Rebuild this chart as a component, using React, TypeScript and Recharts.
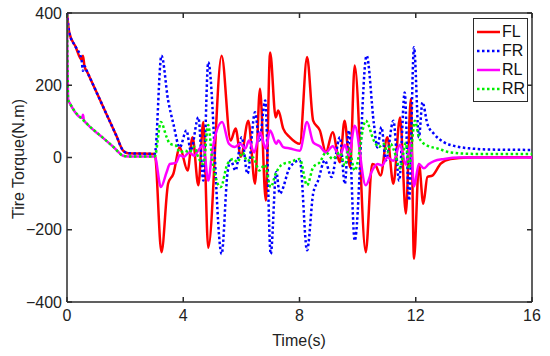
import React from "react";
import { LineChart, Line, XAxis, YAxis, Legend, usePlotArea } from "recharts";

// [time (s), torque (N.m)]
const flSeries: [number, number][] = [
  [0, 400], [0.08, 345], [0.3, 306], [0.5, 271], [0.55, 282], [0.6, 253], [0.7, 236], [1.2, 148],
  [1.7, 60], [1.93, 19], [2.1, 12], [3.02, 10],
  [3.25, -262], [3.48, -72], [3.66, -45], [3.88, 28], [4.15, -36], [4.32, 56], [4.52, -77], [4.69, 98],
  [4.86, -250], [5.32, 282], [5.63, 47], [5.8, 80], [5.98, 2], [6.24, 102], [6.47, -73], [6.64, 190],
  [6.84, -119], [6.99, 291], [7.18, 111], [7.27, 130], [7.44, 80], [7.67, 56], [8.01, 38], [8.26, 278],
  [8.47, 102], [8.7, 75], [8.91, 15], [9.14, 70], [9.39, -13], [9.55, 102], [9.74, -27], [9.9, 255],
  [10.28, -262], [10.5, -18], [10.62, -22], [10.79, -50], [11.02, 56], [11.23, -73], [11.46, 111],
  [11.66, -155], [11.83, 162], [11.94, -280], [12.11, -18], [12.26, -128], [12.4, -54], [12.57, -50],
  [12.86, -17], [13.2, -4], [13.8, 0], [16, 1],
];

const frSeries: [number, number][] = [
  [0, 400], [0.08, 345], [0.3, 306], [0.5, 271], [0.55, 240], [0.6, 253], [0.7, 236], [1.2, 148],
  [1.7, 60], [1.93, 19], [2.1, 12], [3.02, 10],
  [3.25, 282], [3.48, 158], [3.66, 93], [3.88, 28], [4.11, 75], [4.26, 19], [4.52, 111], [4.69, -64],
  [4.86, 264], [5.32, -267], [5.52, -45], [5.63, -8], [5.8, -36], [6.01, 56], [6.21, -45], [6.47, 125],
  [6.62, 47], [6.82, 158], [7.01, -267], [7.2, -40], [7.32, -100], [7.67, -27], [8.01, -8], [8.26, -257],
  [8.47, -100], [8.64, -64], [8.87, -8], [9.1, -54], [9.39, 56], [9.56, -73], [9.7, 75], [9.9, -230],
  [10.31, 282], [10.56, 93], [10.68, 28], [10.82, 84], [10.97, -8], [11.23, 102], [11.43, -64],
  [11.62, 180], [11.77, -119], [11.94, 305], [12.11, 56], [12.23, 153], [12.4, 93], [12.63, 65],
  [12.98, 42], [13.44, 30], [13.9, 25], [14.5, 22], [16, 21],
];

const rlSeries: [number, number][] = [
  [0, 395], [0.04, 160], [0.1, 150], [0.52, 110], [0.55, 118], [0.58, 104], [0.68, 94], [1.2, 57],
  [1.6, 29], [1.93, 5], [2.1, 3], [3.02, 3], [3.23, -82], [3.43, -40], [3.54, -18], [3.75, -15], [3.88, 6], [4.03, 2],
  [4.2, 14], [4.38, 5], [4.5, 18], [4.69, 33], [4.86, -64], [5.0, 19], [5.34, 98], [5.57, 38],
  [5.77, 29], [5.95, 38], [6.14, 25], [6.26, 47], [6.44, 14], [6.64, 70], [6.84, 25], [6.99, 75],
  [7.2, 38], [7.27, 47], [7.44, 29], [7.67, 25], [8.01, 19], [8.26, 98], [8.47, 42], [8.7, 31],
  [8.91, 14], [9.14, 31], [9.39, 4], [9.56, 35], [9.7, 6], [9.9, 88], [10.28, -77], [10.5, -36],
  [10.68, -18], [10.84, -22], [11.02, 0], [11.23, -9], [11.46, 35], [11.66, -20], [11.83, 40],
  [11.94, -80], [12.11, -18], [12.28, -30], [12.45, -18], [12.63, -10], [12.98, -4], [13.5, 0], [16, 0],
];

const rrSeries: [number, number][] = [
  [0, 395], [0.04, 160], [0.1, 150], [0.68, 94], [1.2, 57], [1.6, 29], [1.93, 5], [2.1, 3], [3.02, 3],
  [3.23, 98], [3.43, 56],
  [3.54, 38], [3.75, 33], [3.88, 14], [4.06, 19], [4.2, 14], [4.38, 30], [4.52, 0], [4.69, -18],
  [4.86, 90], [5.0, -8], [5.29, -82], [5.52, -18], [5.72, -4], [5.86, -13], [6.04, 14], [6.2, -10],
  [6.4, 0], [6.62, -36], [6.8, -20], [7.01, -82], [7.18, -45], [7.36, -22], [7.44, -18], [7.67, -13],
  [8.01, -4], [8.26, -77], [8.47, -27], [8.7, -13], [8.91, 14], [9.14, -4], [9.39, 14], [9.56, -22],
  [9.7, 25], [9.9, -36], [10.28, 102], [10.56, 47], [10.73, 29], [10.9, 38], [11.02, 14], [11.14, 38],
  [11.25, 20], [11.46, -30], [11.66, 40], [11.77, -30], [11.97, 102], [12.11, 56], [12.23, 42],
  [12.4, 33], [12.75, 25], [13.2, 14], [14, 10], [16, 10],
];

const xTicks = [0, 4, 8, 12, 16];
const yTicks = [-400, -200, 0, 200, 400];

const FONT = '"Liberation Sans", Arial, sans-serif';
const AXIS = "#2b2b2b";

const series = [
  { name: "FL", data: flSeries, color: "#ff0000", dash: undefined },
  { name: "FR", data: frSeries, color: "#0000ff", dash: "2.5 2.5" },
  { name: "RL", data: rlSeries, color: "#ff00ff", dash: undefined },
  { name: "RR", data: rrSeries, color: "#00ee00", dash: "2.5 2.5" },
];

const toPoints = (pairs: [number, number][]) => pairs.map(([t, v]) => ({ t, v }));

const minus = (v: number) => String(v).replace("-", "\u2212");

// top + right edges of the matlab-style box, ticks pointing inward
function BoxFrame() {
  const area = usePlotArea();
  if (!area) return null;
  const { x, y, width, height } = area;
  const right = x + width;
  return (
    <g stroke={AXIS} strokeWidth={1.5}>
      <line x1={x} y1={y} x2={right} y2={y} />
      <line x1={right} y1={y} x2={right} y2={y + height} />
      {xTicks.map((t) => {
        const px = x + (width * t) / 16;
        return <line key={`t${t}`} x1={px} y1={y} x2={px} y2={y + 5} />;
      })}
      {yTicks.map((v) => {
        const py = y + (height * (400 - v)) / 800;
        return <line key={`r${v}`} x1={right} y1={py} x2={right - 5} y2={py} />;
      })}
    </g>
  );
}

function LegendBox() {
  return (
    <div
      style={{
        border: `1.5px solid ${AXIS}`,
        background: "#fff",
        width: 51,
        padding: "3px 0 3px 2px",
        fontFamily: FONT,
        fontSize: 16,
        color: "#111",
      }}
    >
      {series.map((s) => (
        <div key={s.name} style={{ display: "flex", alignItems: "center", height: 19 }}>
          <svg width={25} height={6} style={{ marginRight: 1 }}>
            <line x1={1} y1={3} x2={24} y2={3} stroke={s.color} strokeWidth={2.5} strokeDasharray={s.dash} />
          </svg>
          <span>{s.name}</span>
        </div>
      ))}
    </div>
  );
}

export default function App() {
  const tickStyle = { fontFamily: FONT, fontSize: 16, fill: "#222" };
  const axisLine = { stroke: AXIS, strokeWidth: 1.5 };
  return (
    <div style={{ position: "absolute", left: 0, top: 0, background: "#fff" }}>
      <LineChart width={550} height={356} margin={{ top: 13, right: 18, left: 0, bottom: 0 }}>
        <XAxis
          dataKey="t"
          type="number"
          domain={[0, 16]}
          ticks={xTicks}
          allowDataOverflow
          height={54}
          tickSize={-5}
          tickMargin={13}
          axisLine={axisLine}
          tickLine={axisLine}
          tick={tickStyle}
          label={{
            content: () => (
              <text x={299} y={340} textAnchor="middle" dominantBaseline="central" style={{ fontFamily: FONT, fontSize: 16, fill: "#222" }}>
                Time(s)
              </text>
            ),
          }}
        />
        <YAxis
          type="number"
          domain={[-400, 400]}
          ticks={yTicks}
          allowDataOverflow
          width={67}
          tickSize={-5}
          tickMargin={10}
          tickFormatter={minus}
          axisLine={axisLine}
          tickLine={axisLine}
          tick={tickStyle}
          label={{
            content: () => (
              <text
                x={18}
                y={159}
                transform="rotate(-90 18 159)"
                textAnchor="middle"
                dominantBaseline="central"
                style={{ fontFamily: FONT, fontSize: 16, fill: "#222" }}
              >
                Tire Torque(N.m)
              </text>
            ),
          }}
        />
        {series.map((s) => (
          <Line
            key={s.name}
            name={s.name}
            data={toPoints(s.data)}
            dataKey="v"
            type="monotone"
            stroke={s.color}
            strokeWidth={2.5}
            strokeDasharray={s.dash}
            dot={false}
            activeDot={false}
            isAnimationActive={false}
          />
        ))}
        <BoxFrame />
        <Legend
          layout="horizontal"
          verticalAlign="middle"
          align="center"
          content={() => <LegendBox />}
          wrapperStyle={{ position: "absolute", left: 473, top: 18, width: "auto" }}
        />
      </LineChart>
    </div>
  );
}
